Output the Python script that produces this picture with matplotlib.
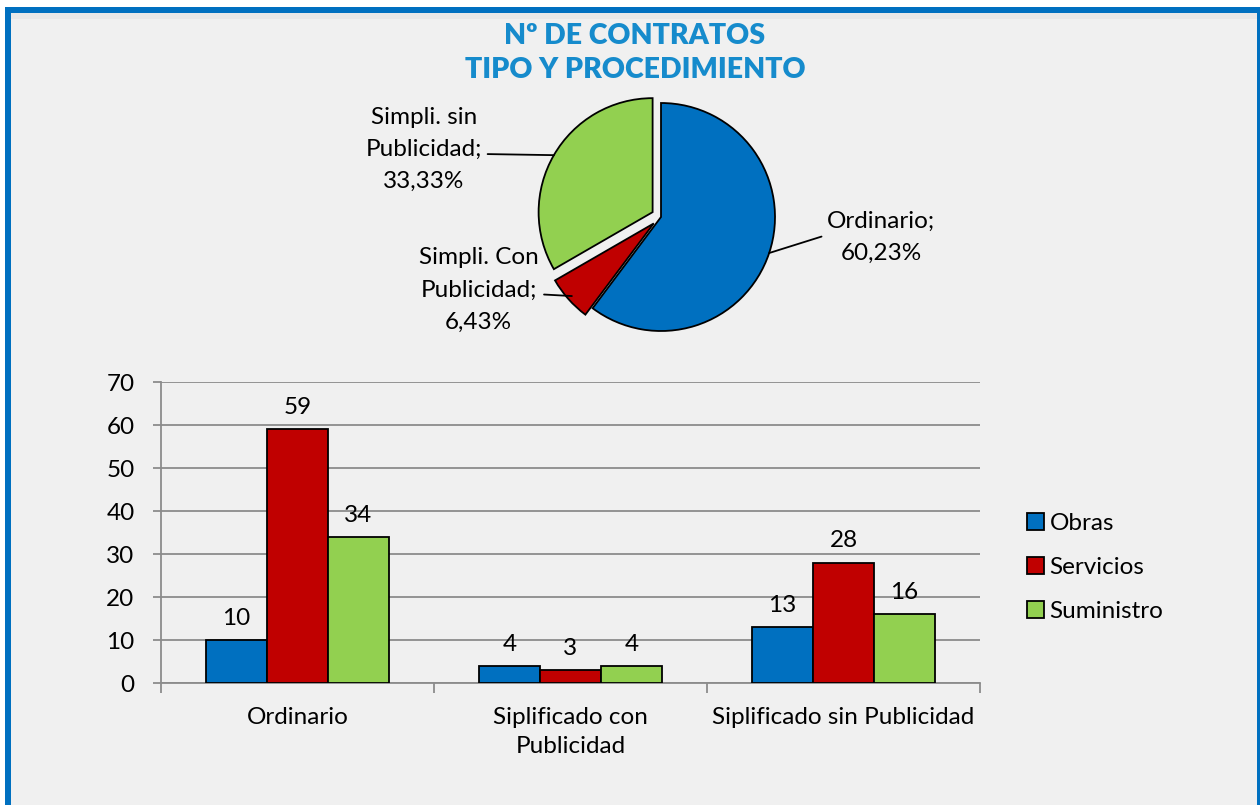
import numpy as np
import matplotlib
matplotlib.use("Agg")
import matplotlib.pyplot as plt
from matplotlib.patches import Rectangle

plt.rcParams['font.family'] = ['Lato', 'DejaVu Sans']

# Datos del gráfico de torta
procedimientos_pie = ["Ordinario", "Simpli. Con\nPublicidad", "Simpli. sin\nPublicidad"]
porcentajes = [60.23, 6.43, 33.33]

# Datos del gráfico de barras
categorias = ["Ordinario", "Siplificado con\nPublicidad", "Siplificado sin Publicidad"]
obras = [10, 4, 13]
servicios = [59, 3, 28]
suministro = [34, 4, 16]
series = ["Obras", "Servicios", "Suministro"]

AZUL = "#0070C0"
ROJO = "#C00000"
VERDE = "#92D050"
FONDO = "#F0F0F0"
FS = 17.5

W, H = 1260, 805
fig = plt.figure(figsize=(W / 100, H / 100), dpi=100)
fig.patch.set_facecolor("white")

# Fondo y marco azul
fig.add_artist(Rectangle((5 / W, 0), (W - 5) / W, (H - 7) / H, transform=fig.transFigure,
                         facecolor=FONDO, edgecolor="none", zorder=-10))
fig.add_artist(Rectangle((11 / W, (H - 19) / H), (W - 14) / W, 6 / H, transform=fig.transFigure,
                         facecolor="#E8E8E8", edgecolor="none", zorder=-9))
fig.add_artist(Rectangle((5 / W, (H - 13) / H), (W - 5) / W, 6 / H, transform=fig.transFigure,
                         facecolor=AZUL, edgecolor="none", zorder=-8))
fig.add_artist(Rectangle((5 / W, 0), 6 / W, (H - 7) / H, transform=fig.transFigure,
                         facecolor=AZUL, edgecolor="none", zorder=-8))
fig.add_artist(Rectangle((1257 / W, 0), 3 / W, (H - 7) / H, transform=fig.transFigure,
                         facecolor=AZUL, edgecolor="none", zorder=-8))

# Título
fig.text(635 / W, 1 - 53 / H, "Nº DE CONTRATOS\nTIPO Y PROCEDIMIENTO", ha="center", va="center",
         fontsize=20.5, fontweight="heavy", color="#168BCC", linespacing=1.35)

# ---- Torta ----
R = 114
cx, cy = 661, 217
lim = 2.6
axp = fig.add_axes([(cx - lim * R) / W, 1 - (cy + lim * R) / H, 2 * lim * R / W, 2 * lim * R / H])
explode = [0, 0.085, 0.085]
wedges, _ = axp.pie(porcentajes, colors=[AZUL, ROJO, VERDE], startangle=90, counterclock=False,
                    explode=explode, wedgeprops=dict(edgecolor="black", linewidth=1.3))
axp.set_xlim(-lim, lim)
axp.set_ylim(-lim, lim)
axp.set_aspect("equal")
axp.axis("off")

etiquetas = [
    ("Ordinario;\n60,23%", (1.93, -0.18), (0, 0.55), 1.0),
    ("Simpli. Con\nPublicidad;\n6,43%", (-1.6, -0.64), (1, 0.45), 0.96),
    ("Simpli. sin\nPublicidad;\n33,33%", (-2.08, 0.59), (1, 0.45), 1.0),
]
for w, (txt, pos, rel, rr), ex in zip(wedges, etiquetas, explode):
    ang = np.deg2rad((w.theta1 + w.theta2) / 2)
    r = rr + ex
    punto = (r * np.cos(ang), r * np.sin(ang))
    axp.annotate(txt, xy=punto, xytext=pos, ha="center", va="center", fontsize=FS,
                 linespacing=1.65, color="black",
                 arrowprops=dict(arrowstyle="-", color="black", lw=1.3, shrinkA=2, shrinkB=0,
                                 relpos=rel))

# ---- Barras ----
ax = fig.add_axes([161 / W, 1 - 683 / H, (980 - 161) / W, (683 - 382) / H])
ax.set_facecolor("none")
x = np.arange(len(categorias)) + 0.5
ancho = 0.2233
for i, (vals, color, nombre) in enumerate(zip([obras, servicios, suministro], [AZUL, ROJO, VERDE], series)):
    barras = ax.bar(x + (i - 1) * ancho, vals, width=ancho, color=color, edgecolor="black",
                    linewidth=1.3, label=nombre, zorder=3)
    ax.bar_label(barras, padding=8, fontsize=FS)

ax.set_xlim(0, 3)
ax.set_ylim(0, 70)
ax.set_yticks(range(0, 71, 10))
ax.grid(axis="y", color="#8C8C8C", linewidth=1.3, zorder=0)
ax.set_xticks([0, 1, 2, 3])
ax.set_xticklabels([])
ax.set_xticks(x, minor=True)
ax.set_xticklabels(categorias, minor=True, fontsize=FS, linespacing=1.5)
ax.tick_params(axis="x", which="minor", length=0, pad=17)
ax.tick_params(axis="x", which="major", length=7, width=1.3, color="#8C8C8C")
ax.tick_params(axis="y", length=6, width=1.3, color="#8C8C8C", labelsize=FS, pad=13)
for s in ["top", "right"]:
    ax.spines[s].set_visible(False)
for s in ["left", "bottom"]:
    ax.spines[s].set_color("#8C8C8C")
    ax.spines[s].set_linewidth(1.3)

ax.legend(loc="center left", bbox_to_anchor=(1.045, 0.385), frameon=False, fontsize=FS,
          handlelength=0.7, handleheight=0.7, handletextpad=0.25, labelspacing=0.95,
          borderaxespad=0)

fig.savefig("out.png", dpi=100, facecolor=fig.get_facecolor())
